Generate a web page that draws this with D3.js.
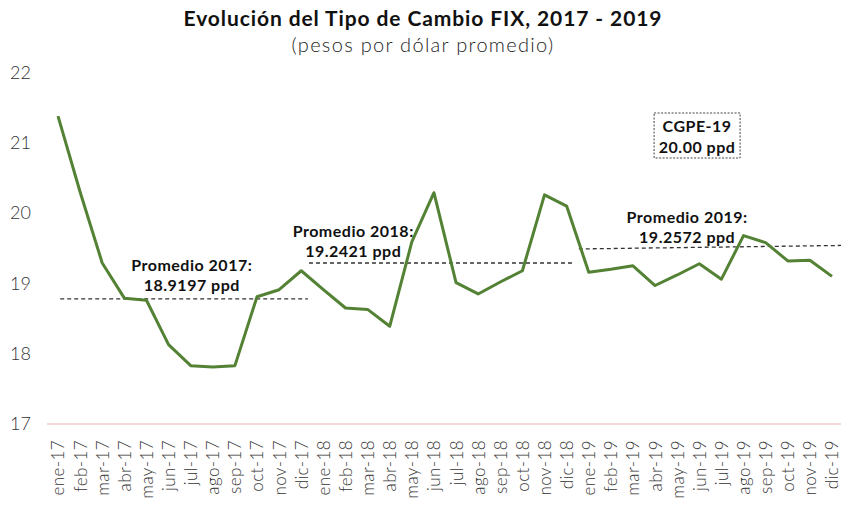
<!DOCTYPE html>
<html>
<head>
<meta charset="utf-8">
<script src="https://cdn.jsdelivr.net/npm/d3@7"></script>
<style>
  body { margin: 0; background: #fff; }
  svg { display: block; }
  .lbl { font-family: Lato, "Open Sans", sans-serif; }
</style>
</head>
<body>
<div id="chart"></div>
<script>
// meses 2017 - 2019
var months = ["ene-17","feb-17","mar-17","abr-17","may-17","jun-17","jul-17","ago-17","sep-17","oct-17","nov-17","dic-17",
              "ene-18","feb-18","mar-18","abr-18","may-18","jun-18","jul-18","ago-18","sep-18","oct-18","nov-18","dic-18",
              "ene-19","feb-19","mar-19","abr-19","may-19","jun-19","jul-19","ago-19","sep-19","oct-19","nov-19","dic-19"];

// tipo de cambio FIX (promedio mensual)
var fix = [21.38, 20.30, 19.29, 18.79, 18.76, 18.13, 17.83, 17.81, 17.83, 18.81, 18.91, 19.18,
           18.91, 18.65, 18.63, 18.39, 19.59, 20.29, 19.01, 18.85, 19.02, 19.18, 20.26, 20.10,
           19.16, 19.20, 19.25, 18.97, 19.12, 19.28, 19.06, 19.68, 19.58, 19.32, 19.33, 19.10];

var yTicks = [17, 18, 19, 20, 21, 22];

// lineas punteadas de promedio: [indice inicio, indice fin, valor inicio, valor fin]
var avgLines = [
  [0.1, 11.3, 18.78, 18.78],
  [11.35, 23.3, 19.29, 19.29],
  [23.55, 35.45, 19.49, 19.54]
];

// etiquetas de promedio: [indice centro, valor linea 1, texto 1, texto 2]
var avgLabels = [
  [6.05, 19.18, "Promedio 2017:", "18.9197 ppd"],
  [13.35, 19.66, "Promedio 2018:", "19.2421 ppd"],
  [28.45, 19.86, "Promedio 2019:", "19.2572 ppd"]
];

var cgpe = ["CGPE-19", "20.00 ppd"];

var width = 841, height = 508;

var svg = d3.select("#chart").append("svg")
    .attr("width", width)
    .attr("height", height);

var x = d3.scalePoint().domain(months).range([58, 832]);
var xi = d3.scaleLinear().domain([0, months.length - 1]).range([58, 832]);
var y = d3.scaleLinear().domain([17, 22]).range([424, 72.5]);

// titulo
svg.append("text")
    .attr("class", "lbl")
    .attr("x", 423).attr("y", 26)
    .attr("text-anchor", "middle")
    .style("font-size", "21px").style("font-weight", "bold").style("fill", "#111")
    .style("letter-spacing", "0.9px")
    .text("Evolución del Tipo de Cambio FIX, 2017 - 2019");

svg.append("text")
    .attr("class", "lbl")
    .attr("x", 423).attr("y", 52)
    .attr("text-anchor", "middle")
    .style("font-size", "20px").style("font-weight", "300").style("fill", "#222")
    .style("letter-spacing", "1.3px")
    .text("(pesos por dólar promedio)");

// eje y
var yAxis = svg.append("g")
    .attr("transform", "translate(31,0)")
    .call(d3.axisLeft(y).tickValues(yTicks).tickSize(0).tickPadding(0).tickFormat(d3.format("d")));
yAxis.select(".domain").remove();
yAxis.selectAll("text")
    .attr("class", "lbl")
    .style("font-size", "18px").style("font-weight", "300").style("fill", "#333");

// linea base
svg.append("line")
    .attr("x1", 47).attr("x2", 841)
    .attr("y1", y(17)).attr("y2", y(17))
    .style("stroke", "#f5c9cc").style("stroke-width", 1.5);

// eje x
var xAxis = svg.append("g")
    .attr("transform", "translate(0," + y(17) + ")")
    .call(d3.axisBottom(x).tickSize(0));
xAxis.select(".domain").remove();
xAxis.selectAll("text")
    .attr("class", "lbl")
    .attr("x", 0).attr("y", 0).attr("dy", "0.35em")
    .attr("transform", "translate(0,16) rotate(-90)")
    .attr("text-anchor", "end")
    .style("font-size", "17px").style("font-weight", "300").style("fill", "#333")
    .style("letter-spacing", "0.4px");

// promedios
svg.append("g").selectAll("line")
    .data(avgLines)
    .enter()
    .append("line")
    .attr("x1", function(d){ return xi(d[0]); })
    .attr("x2", function(d){ return xi(d[1]); })
    .attr("y1", function(d){ return y(d[2]); })
    .attr("y2", function(d){ return y(d[3]); })
    .style("stroke", "#333")
    .style("stroke-width", 1.3)
    .style("stroke-dasharray", "4,3");

// serie
var line = d3.line()
    .x(function(d, i){ return x(months[i]); })
    .y(function(d){ return y(d); });

svg.append("path")
    .datum(fix)
    .attr("d", line)
    .style("fill", "none")
    .style("stroke", "#548235")
    .style("stroke-width", 3)
    .style("stroke-linejoin", "round");

// etiquetas de promedio
var lab = svg.append("g").selectAll("text")
    .data(avgLabels)
    .enter()
    .append("text")
    .attr("class", "lbl")
    .attr("text-anchor", "middle")
    .style("font-size", "16px").style("font-weight", "bold").style("fill", "#111")
    .style("letter-spacing", "0.5px");
lab.append("tspan")
    .attr("x", function(d){ return xi(d[0]); })
    .attr("y", function(d){ return y(d[1]); })
    .text(function(d){ return d[2]; });
lab.append("tspan")
    .attr("x", function(d){ return xi(d[0]); })
    .attr("dy", 20)
    .text(function(d){ return d[3]; });

// recuadro CGPE
var cx = xi(28.9);
svg.append("rect")
    .attr("x", cx - 43).attr("y", 113)
    .attr("width", 86).attr("height", 45)
    .style("fill", "#fff")
    .style("stroke", "#444").style("stroke-width", 1)
    .style("stroke-dasharray", "2,1.5");
svg.append("g").selectAll("text")
    .data(cgpe)
    .enter()
    .append("text")
    .attr("class", "lbl")
    .attr("x", cx)
    .attr("y", function(d, i){ return 132 + i * 21; })
    .attr("text-anchor", "middle")
    .style("font-size", "16px").style("font-weight", "bold").style("fill", "#111")
    .style("letter-spacing", "0.5px")
    .text(function(d){ return d; });
</script>
</body>
</html>
